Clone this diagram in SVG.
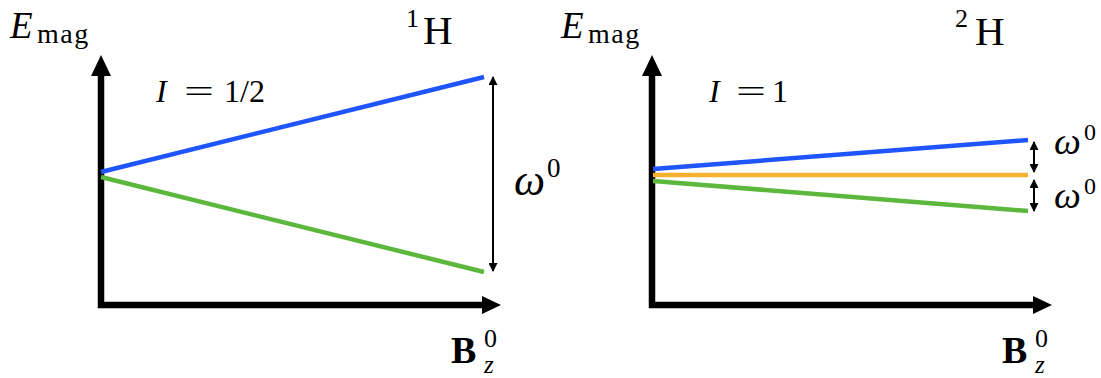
<svg xmlns="http://www.w3.org/2000/svg" width="1101" height="378" viewBox="0 0 1101 378">
<defs>
<marker id="ah" viewBox="0 0 10 10" refX="9" refY="5" markerWidth="10" markerHeight="9" markerUnits="userSpaceOnUse" orient="auto-start-reverse">
<path d="M0,0 L10,5 L0,10 Z" fill="#000"/>
</marker>
<style>
.ax{fill:none;stroke:#000;stroke-width:6.5;stroke-linejoin:miter}
.head{fill:#000}
.blue{stroke:#1f55ff;stroke-width:4.5;fill:none}
.green{stroke:#5cb83c;stroke-width:4.5;fill:none}
.orange{stroke:#f6b12e;stroke-width:4.5;fill:none}
.dbl{stroke:#000;stroke-width:2;fill:none;marker-start:url(#ah);marker-end:url(#ah)}
text{font-family:"Liberation Serif","DejaVu Serif",serif;fill:#000}
.it{font-style:italic}
.bf{font-weight:bold}
.sub{font-size:28px;letter-spacing:1.5px}
</style>
</defs>
<g id="left-plot">
<g id="left-axes">
<path class="ax" d="M101,74 V305 H483"/>
<path class="head" d="M101,55 L91,76 L111,76 Z"/>
<path class="head" d="M501,305 L482,296 L482,314 Z"/>
</g>
<g id="left-labels">
<text class="it" x="10" y="38" font-size="37">E</text>
<text class="sub" x="37" y="43">mag</text>
<text x="406" y="27" font-size="26">1</text>
<text x="423" y="44" font-size="41">H</text>
<text class="it" x="156" y="102" font-size="32">I</text>
<text x="184" y="102" font-size="32" textLength="30" lengthAdjust="spacingAndGlyphs">=</text>
<text x="224" y="102" font-size="32">1/2</text>
<text class="it" x="514" y="195" font-size="44">ω</text>
<text x="547" y="177" font-size="27">0</text>
<text class="bf" x="451" y="363" font-size="38">B</text>
<text x="484" y="347" font-size="26">0</text>
<text class="it" x="484" y="373" font-size="25">z</text>
</g>
</g>
<g id="right-plot">
<g id="right-axes">
<path class="ax" d="M652,74 V305 H1034"/>
<path class="head" d="M652,55 L642,76 L662,76 Z"/>
<path class="head" d="M1052,305 L1033,296 L1033,314 Z"/>
</g>
<g id="right-labels">
<text class="it" x="561" y="38" font-size="37">E</text>
<text class="sub" x="588" y="43">mag</text>
<text x="955" y="27" font-size="26">2</text>
<text x="975" y="45" font-size="41">H</text>
<text class="it" x="709" y="102" font-size="32">I</text>
<text x="736" y="102" font-size="32" textLength="30" lengthAdjust="spacingAndGlyphs">=</text>
<text x="772" y="102" font-size="32">1</text>
<text class="it" x="1054" y="154" font-size="38">ω</text>
<text x="1084" y="140" font-size="24">0</text>
<text class="it" x="1054" y="208" font-size="38">ω</text>
<text x="1084" y="194" font-size="24">0</text>
<text class="bf" x="1002" y="363" font-size="38">B</text>
<text x="1035" y="347" font-size="26">0</text>
<text class="it" x="1035" y="373" font-size="25">z</text>
</g>
</g>
<g id="connectors">
<path class="blue" d="M101,172 L484,77"/>
<path class="green" d="M101,177 L484,272"/>
<path class="dbl" d="M493,77 V271"/>
<path class="blue" d="M653,169 L1028,140"/>
<path class="orange" d="M653,175 L1028,175"/>
<path class="green" d="M653,181 L1028,211"/>
<path class="dbl" d="M1034,142 V172"/>
<path class="dbl" d="M1034,180 V211"/>
</g>
</svg>
